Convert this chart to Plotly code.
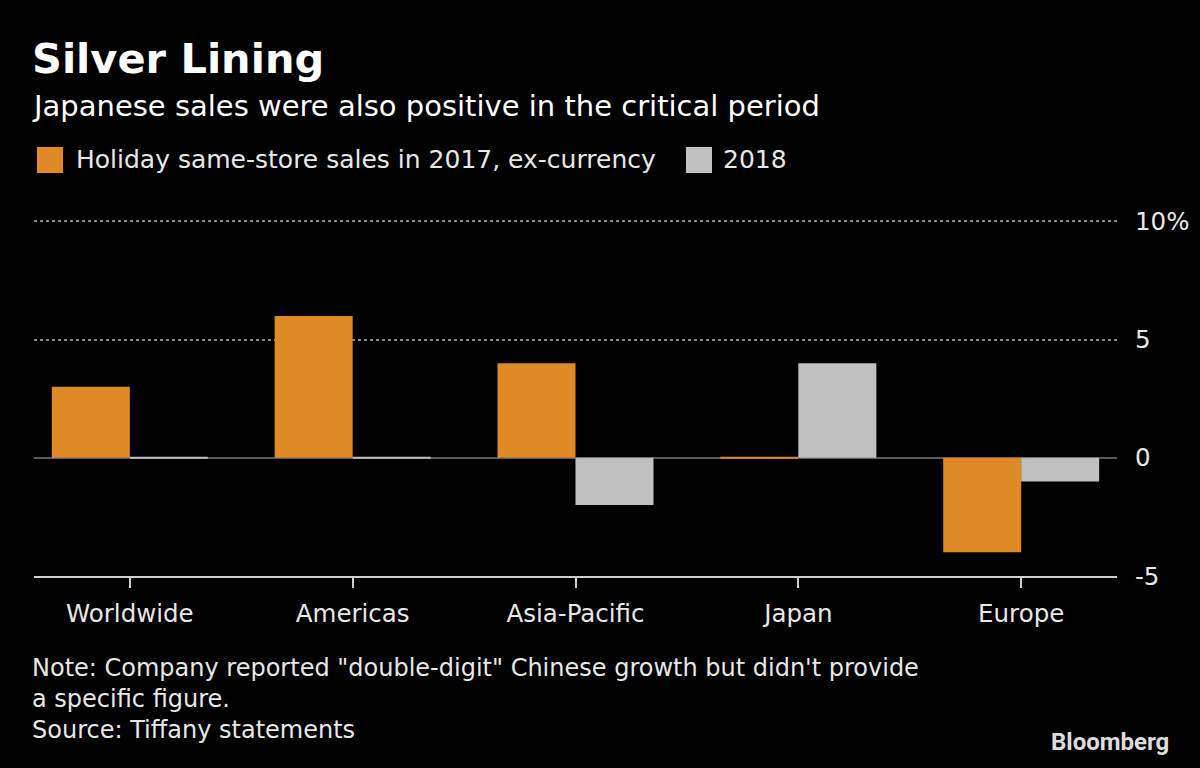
import plotly.graph_objects as go

categories = ["Worldwide", "Americas", "Asia-Pacific", "Japan", "Europe"]
sales_2017 = [3, 6, 4, 0, -4]
sales_2018 = [0, 0, -2, 4, -1]
series_names = ["Holiday same-store sales in 2017, ex-currency", "2018"]
y_tickvals = [-5, 0, 5, 10]
y_ticktext = ["-5", "0", "5", "10%"]

ORANGE = "#df8a26"
GRAY = "#c0c0c0"
TEXT = "#e8e8e8"
FONT = "DejaVu Sans"

W, H = 1200, 768
L, R, T, B = 34, 83, 219, 192
PW, PH = W - L - R, H - T - B


def px(x):
    return (x - L) / PW


def py(y):
    return (H - B - y) / PH


fig = go.Figure()
colors = [ORANGE, GRAY]
for name, vals, col in zip(series_names, [sales_2017, sales_2018], colors):
    fig.add_trace(go.Bar(x=categories, y=vals, name=name, marker_color=col,
                         marker_line_width=0, showlegend=False))

bargap = 0.3
group_w = 1 - bargap
bar_w = group_w / 2
shapes = []
# zero-value bars drawn as thin segments on the zero line
for j, (vals, col) in enumerate(zip([sales_2017, sales_2018], colors)):
    for i, v in enumerate(vals):
        if v == 0:
            x0 = i - group_w / 2 + j * bar_w
            shapes.append(dict(type="line", xref="x", yref="y", x0=x0, x1=x0 + bar_w,
                               y0=0, y1=0, line=dict(color=col, width=2), layer="above"))

# custom legend
leg = [(37, 77, ORANGE, series_names[0]), (686, 724, GRAY, series_names[1])]
annotations = []
for sx, tx, col, name in leg:
    shapes.append(dict(type="rect", xref="paper", yref="paper", x0=px(sx), x1=px(sx + 26),
                       y0=py(173), y1=py(147), fillcolor=col, line_width=0))
    annotations.append(dict(text=name, xref="paper", yref="paper", x=px(tx - 3), y=py(160),
                            xanchor="left", yanchor="middle", showarrow=False,
                            font=dict(family=FONT, size=25, color=TEXT)))

annotations += [
    dict(text="<b>Silver Lining</b>", xref="paper", yref="paper", x=px(30), y=py(58),
         xanchor="left", yanchor="middle", showarrow=False,
         font=dict(family=FONT, size=41.5, color="white")),
    dict(text="Japanese sales were also positive in the critical period", xref="paper", yref="paper",
         x=px(30), y=py(106), xanchor="left", yanchor="middle", showarrow=False,
         font=dict(family=FONT, size=29, color="white")),
    dict(text="Note: Company reported \"double-digit\" Chinese growth but didn't provide<br>a specific figure.<br>Source: Tiffany statements",
         xref="paper", yref="paper", x=px(30), y=py(652), xanchor="left", yanchor="top",
         align="left", showarrow=False,
         font=dict(family=FONT, size=24, color=TEXT)),
    dict(text="<b>Bloomberg</b>", xref="paper", yref="paper", x=px(1171), y=py(742),
         xanchor="right", yanchor="middle", showarrow=False,
         font=dict(family="Liberation Sans Narrow, Roboto", size=24, color="#dddddd")),
]

fig.update_layout(
    width=W, height=H,
    margin=dict(l=L, r=R, t=T, b=B, pad=0),
    paper_bgcolor="black", plot_bgcolor="black",
    barmode="group", bargap=bargap, bargroupgap=0,
    shapes=shapes, annotations=annotations,
    xaxis=dict(range=[-0.43, 4.43], showgrid=False, showline=True, linecolor="#cfcfcf",
               linewidth=2, ticks="outside", ticklen=10, tickwidth=2, tickcolor="#cfcfcf",
               tickfont=dict(family=FONT, size=24.5, color=TEXT), ticklabelstandoff=5),
    yaxis=dict(range=[-5, 10.1], side="right", tickvals=y_tickvals, ticktext=y_ticktext,
               showgrid=True, gridcolor="#8a8a8a", griddash="dot", gridwidth=1.5,
               zeroline=True, zerolinecolor="#5a5a5a", zerolinewidth=2,
               showline=False, ticks="", ticklabelstandoff=17,
               tickfont=dict(family=FONT, size=24.5, color=TEXT)),
)

fig.write_html("out.html")
